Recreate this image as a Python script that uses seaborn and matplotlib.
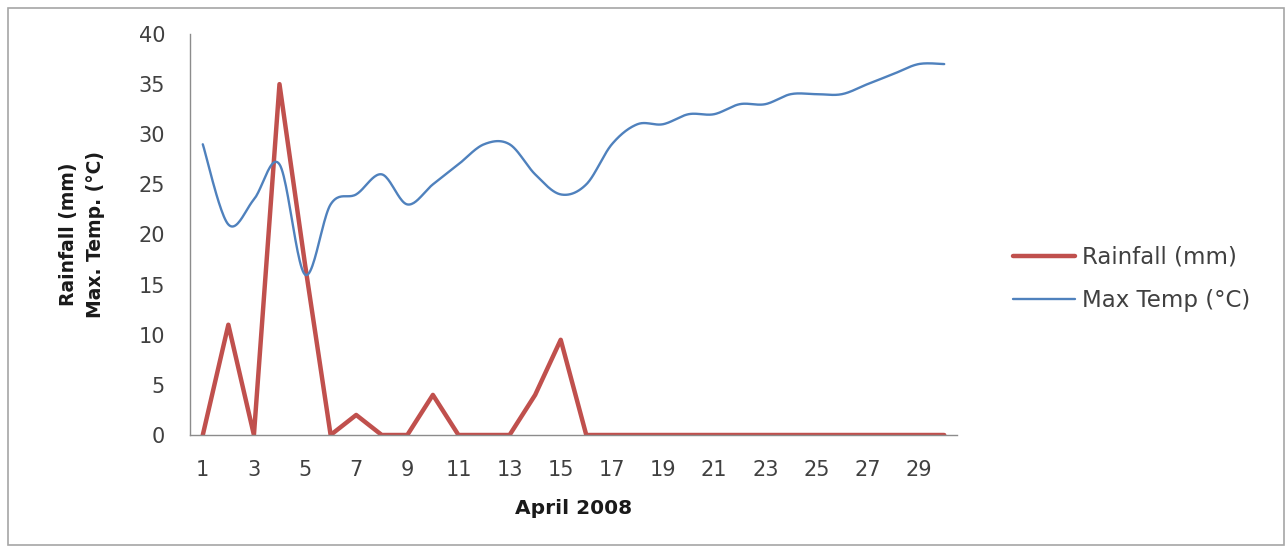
import numpy as np
import pandas as pd
import seaborn as sns
import matplotlib
matplotlib.use("Agg")
import matplotlib.pyplot as plt
from matplotlib.lines import Line2D
from matplotlib.patches import Rectangle

# Daily observations, April 2008
days = list(range(1, 31))
rainfall_mm = [0, 11, 0, 35, 17, 0, 2, 0, 0, 4,
               0, 0, 0, 4, 9.5, 0, 0, 0, 0, 0,
               0, 0, 0, 0, 0, 0, 0, 0, 0, 0]
max_temp_c = [29, 21, 23.5, 27, 16, 23, 24, 26, 23, 25,
              27, 29, 29, 26, 24, 25, 29, 31, 31, 32,
              32, 33, 33, 34, 34, 34, 35, 36, 37, 37]
x_ticks = list(range(1, 30, 2))
y_ticks = list(range(0, 41, 5))

series_labels = ["Rainfall (mm)", "Max Temp (°C)"]
RED = "#C0504D"
BLUE = "#4F81BD"


def smooth_curve(xs, ys, steps=24):
    """Bezier smoothing through every point (spreadsheet-style smoothed line)."""
    xs = np.asarray(xs, float)
    ys = np.asarray(ys, float)
    pts = np.column_stack([xs, ys])
    n = len(pts)
    out = []
    for i in range(n - 1):
        p0 = pts[i - 1] if i > 0 else pts[i]
        p1 = pts[i]
        p2 = pts[i + 1]
        p3 = pts[i + 2] if i + 2 < n else pts[i + 1]
        c1 = p1 + (p2 - p0) / 6.0
        c2 = p2 - (p3 - p1) / 6.0
        t = np.linspace(0, 1, steps, endpoint=(i == n - 2))[:, None]
        seg = ((1 - t) ** 3) * p1 + 3 * ((1 - t) ** 2) * t * c1 \
            + 3 * (1 - t) * t ** 2 * c2 + t ** 3 * p2
        out.append(seg)
    arr = np.vstack(out)
    return arr[:, 0], arr[:, 1]


sns.set_theme(style="white")
plt.rcParams["font.family"] = ["DejaVu Sans"]

fig = plt.figure(figsize=(12.88, 5.48), dpi=100)
ax = fig.add_axes([190 / 1288, 1 - 435 / 548, (957 - 190) / 1288, (435 - 34) / 548])

rain_df = pd.DataFrame({"day": days, "value": rainfall_mm})
sx, sy = smooth_curve(days, max_temp_c)
temp_df = pd.DataFrame({"day": sx, "value": sy})

sns.lineplot(data=temp_df, x="day", y="value", sort=False, color=BLUE,
             linewidth=1.7, ax=ax, zorder=3)
sns.lineplot(data=rain_df, x="day", y="value", sort=False, color=RED,
             linewidth=3.2, ax=ax, zorder=2)

ax.set_xlim(0.5, 30.5)
ax.set_ylim(0, 40)
ax.set_xticks(x_ticks)
ax.set_xticklabels([str(d) for d in x_ticks])
ax.set_yticks(y_ticks)
ax.set_yticklabels([str(v) for v in y_ticks])
ax.tick_params(axis="both", length=0, labelsize=15, colors="#404040")
ax.tick_params(axis="y", pad=18)
ax.tick_params(axis="x", pad=18)

for side in ["top", "right"]:
    ax.spines[side].set_visible(False)
for side in ["left", "bottom"]:
    ax.spines[side].set_color("#8C8C8C")
    ax.spines[side].set_linewidth(1.0)
ax.grid(False)

ax.set_xlabel("April 2008", fontsize=14.5, fontweight="bold", color="#1A1A1A", labelpad=14)
ax.set_ylabel("Rainfall (mm)\nMax. Temp. (°C)", fontsize=13.5, fontweight="bold",
              color="#1A1A1A", labelpad=24, linespacing=1.55)

handles = [Line2D([0], [0], color=RED, linewidth=3.2),
           Line2D([0], [0], color=BLUE, linewidth=1.7)]
fig.legend(handles, series_labels, loc="center left",
           bbox_to_anchor=(997 / 1288, 1 - 279 / 548), frameon=False,
           fontsize=16.5, handlelength=2.7, handletextpad=0.3,
           labelspacing=0.9, borderpad=0.2, labelcolor="#404040")

fig.patches.append(Rectangle((8 / 1288, 3 / 548), (1284 - 8) / 1288, (540 - 3) / 548,
                             transform=fig.transFigure, fill=False,
                             edgecolor="#A6A6A6", linewidth=1.2))

fig.savefig("out.png", dpi=100, facecolor="white")
